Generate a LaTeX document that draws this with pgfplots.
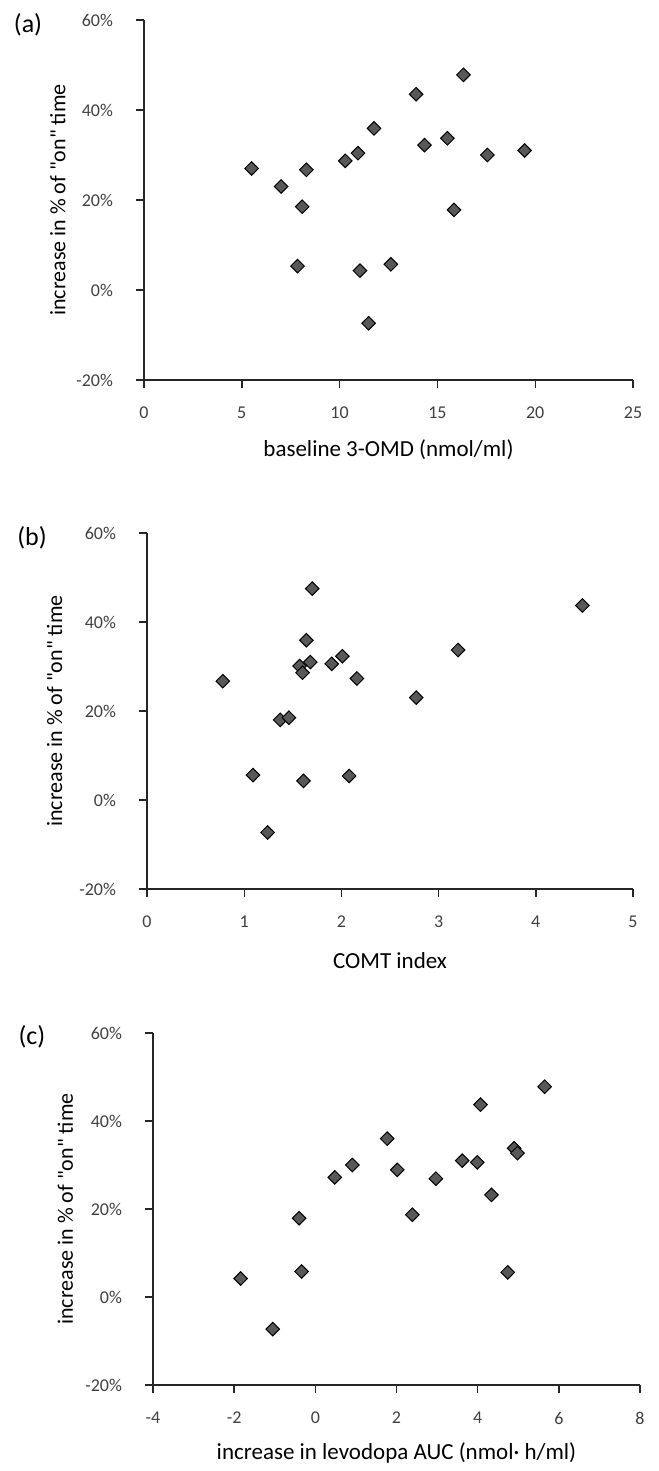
\documentclass[border=0pt]{standalone}
\usepackage{fontspec}
\setmainfont{Carlito}[Ligatures=TeXOff]
\usepackage{pgfplots}
\pgfplotsset{compat=1.18}

\definecolor{markfill}{RGB}{88,88,88}

\pgfplotsset{
  panel/.style={
    scale only axis,
    anchor=north west,
    axis x line=bottom, axis y line=left,
    axis line style={-, line width=0.7pt, black!85},
    tick style={line width=0.7pt, black!85},
    tick align=outside, major tick length=4pt,
    ymin=-20, ymax=60, ytick={-20,0,20,40,60},
    yticklabels={-20\%,0\%,20\%,40\%,60\%},
    /pgf/number format/assume math mode=true,
    ticklabel style={font=\fontsize{9}{10}\selectfont, text=black!75},
    xticklabel style={yshift=-6pt},
    yticklabel shift=8pt,
    label style={font=\fontsize{11.5}{13}\selectfont},
    ylabel={increase in \% of "on" time},
    ylabel style={font=\fontsize{11}{13}\selectfont},
    clip=false,
  },
  pts/.style={only marks, mark=square*, mark size=2.4pt,
    mark options={rotate=45, fill=markfill, draw=black, line width=0.5pt}},
}

\begin{document}
\begin{tikzpicture}
\path[use as bounding box] (0,0) rectangle (329pt,-735.5pt);

% (a)
\begin{axis}[panel, at={(72pt,-10pt)}, width=244.5pt, height=180pt,
  xmin=0, xmax=25, xtick={0,5,10,15,20,25},
  xlabel={baseline 3-OMD (nmol/ml)},
  xlabel style={at={(axis description cs:0.5,-0.194)}, anchor=center},
  ylabel style={at={(axis description cs:-0.176,0.5)}, anchor=center}]
\addplot[pts] coordinates {
 (5.50,27.0) (7.01,23.0) (8.30,26.7) (8.09,18.5) (7.85,5.3)
 (10.29,28.7) (10.94,30.4) (11.76,35.9) (11.04,4.3) (12.62,5.7)
 (11.48,-7.4) (13.91,43.5) (16.33,47.8) (14.34,32.2) (15.51,33.7)
 (15.85,17.8) (17.56,30.0) (19.46,31.0)
};
\end{axis}
\node[font=\fontsize{13}{15}\selectfont] at (14pt,-12.5pt) {(a)};

% (b)
\begin{axis}[panel, at={(73.5pt,-266.5pt)}, width=243pt, height=178pt,
  xmin=0, xmax=5, xtick={0,1,2,3,4,5},
  xlabel={COMT index},
  xlabel style={at={(axis description cs:0.5,-0.2)}, anchor=center},
  ylabel style={at={(axis description cs:-0.19,0.5)}, anchor=center}]
\addplot[pts] coordinates {
 (0.78,26.7) (1.09,5.6) (1.24,-7.3) (1.37,18.0) (1.46,18.5)
 (1.57,30.1) (1.60,28.6) (1.61,4.3) (1.64,35.9) (1.68,31.0)
 (1.70,47.5) (1.90,30.6) (2.01,32.3) (2.08,5.4) (2.16,27.3)
 (2.77,23.0) (3.20,33.7) (4.48,43.7)
};
\end{axis}
\node[font=\fontsize{13}{15}\selectfont] at (16pt,-269pt) {(b)};

% (c)
\begin{axis}[panel, at={(76.5pt,-516.5pt)}, width=243.5pt, height=176pt,
  xmin=-4, xmax=8, xtick={-4,-2,0,2,4,6,8},
  xlabel={increase in levodopa AUC (nmol· h/ml)},
  xlabel style={at={(axis description cs:0.5,-0.193)}, anchor=center},
  ylabel style={at={(axis description cs:-0.18,0.5)}, anchor=center}]
\addplot[pts] coordinates {
 (-1.84,4.2) (-1.05,-7.3) (-0.40,17.9) (-0.34,5.8) (0.48,27.2)
 (0.91,30.0) (1.77,36.0) (2.02,28.9) (2.39,18.7) (2.97,26.9)
 (3.62,31.0) (3.99,30.6) (4.07,43.7) (4.34,23.2) (4.74,5.6)
 (4.90,33.8) (4.98,32.7) (5.65,47.8)
};
\end{axis}
\node[font=\fontsize{13}{15}\selectfont] at (16pt,-518.5pt) {(c)};
\end{tikzpicture}
\end{document}
